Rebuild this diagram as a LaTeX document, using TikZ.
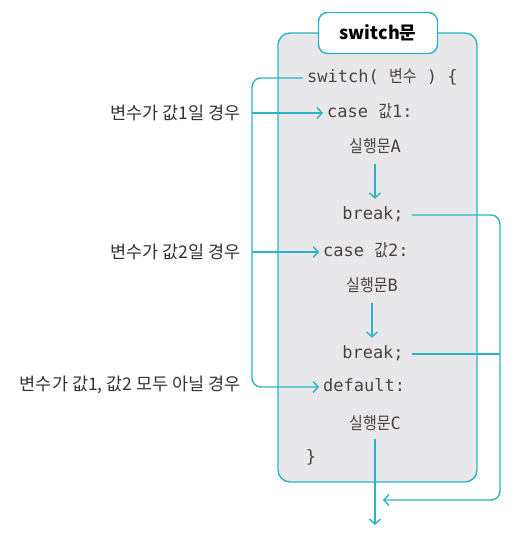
\documentclass[tikz,border=0pt]{standalone}
\usepackage{fontspec}
\setmonofont{DejaVu Sans Mono}
\newfontfamily\kr[FakeStretch=0.88]{Noto Sans CJK KR}
\newfontfamily\krtitle{Noto Sans CJK KR}
\usepackage{tikz}
\usetikzlibrary{arrows.meta,positioning}
\definecolor{swteal}{HTML}{2BB3C6}
\definecolor{boxgray}{HTML}{E8E8EA}
\definecolor{codeink}{HTML}{4D4240}
\tikzset{
flow/.style={-{Straight Barb[length=5pt,width=11pt]}, swteal, line width=1.4pt, rounded corners=9pt}, % connectors with an open tip
wire/.style={swteal, line width=1.4pt, rounded corners=9pt}, % connectors without a tip
code/.style={font=\ttfamily\fontsize{17}{17}\selectfont, text=codeink, inner sep=4pt, text height=12pt, text depth=4pt}, % lines of the switch statement
lbl/.style={font=\krtitle\fontsize{17.5}{17.5}\selectfont, text=black!80, anchor=east, inner sep=2pt}, % conditions on the left
title/.style={font=\krtitle\bfseries\fontsize{18}{18}\selectfont, fill=white, draw=swteal, line width=1.4pt, rounded corners=9pt, minimum width=119pt, minimum height=41pt},
}
\begin{document}
\begin{tikzpicture}[x=1pt,y=-1pt]
\useasboundingbox (0,0) rectangle (528,535);
\fill[boxgray, draw=swteal, line width=1.4pt, rounded corners=12pt] (278,33) rectangle (477,482);
\node[title] (ttl) at (378,33) {switch{\krtitle 문}};
\node[code, anchor=west] (swl) at (303,78) {switch( {\kr 변수} ) \{};
\node[code, anchor=west] (caseA) at (323,113) {case {\kr 값}1:};
\node[code] (runA) at (375,148) {{\kr 실행문}A};
\node[code] (brkA) at (373,215) {break;};
\node[code, anchor=west] (caseB) at (319,252) {case {\kr 값}2:};
\node[code] (runB) at (372,287) {{\kr 실행문}B};
\node[code] (brkB) at (373,354) {break;};
\node[code, anchor=west] (dflt) at (319,387) {default:};
\node[code] (runC) at (375,425) {{\kr 실행문}C};
\node[code] (cls) at (311,458) {\}};
\node[lbl] (lblA) at (243,113) {변수가 값1일 경우};
\node[lbl] (lblB) at (243,252) {변수가 값2일 경우};
\node[lbl] (lblC) at (243,385) {변수가 값1, 값2 모두 아닐 경우};
\coordinate (lbus) at (252,0);
\coordinate (rbus) at (500,0);
\coordinate (back) at (383,500);
\coordinate (exit) at (375,525);
\draw[flow] (swl.west) -| (lbus |- dflt.west) -- (dflt.west);
\draw[flow] (lbus |- caseA.west) -- (caseA.west);
\draw[flow] (lbus |- caseB.west) -- (caseB.west);
\draw[flow, shorten <=4pt, shorten >=4pt] (runA.south) -- (runA.south |- brkA.north);
\draw[flow, shorten <=4pt, shorten >=4pt] (runB.south) -- (runB.south |- brkB.north);
\draw[flow, shorten <=2pt] (runC.south) -- (exit);
\draw[flow, shorten <=4pt] (brkA.east) -| (rbus |- back) -- (back);
\draw[wire, shorten <=4pt] (brkB.east) -- (rbus |- brkB.east);
\end{tikzpicture}
\end{document}
